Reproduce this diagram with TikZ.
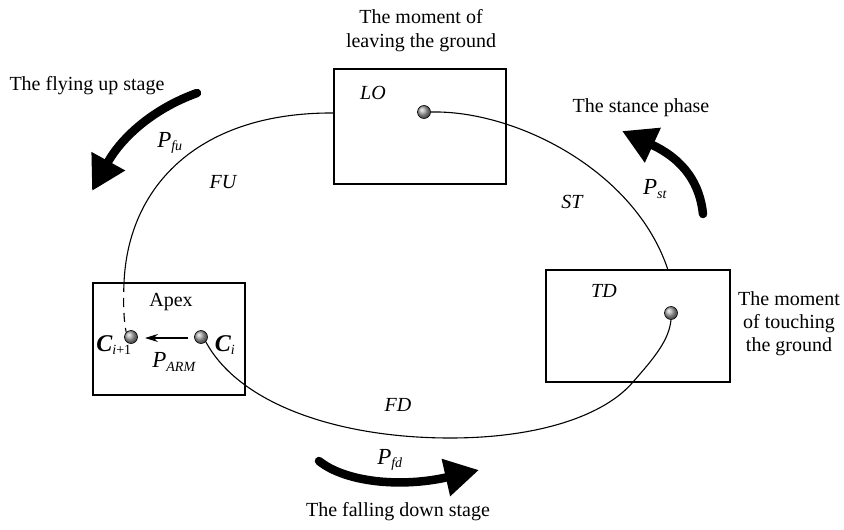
\documentclass[tikz,border=0pt]{standalone}
\usepackage{fontspec}
\setmainfont{Liberation Serif}
\usetikzlibrary{arrows.meta}
\begin{document}
\begin{tikzpicture}[x=1pt,y=-1pt,
  box/.style={draw, line width=1.2pt, inner sep=0pt},
  lbl/.style={font=\fontsize{20}{24}\selectfont, inner sep=0pt, align=center},
  sym/.style={font=\fontsize{20}{24}\selectfont\itshape, inner sep=0pt},
  psym/.style={font=\fontsize{23}{26}\selectfont\itshape, inner sep=0pt},
  ball/.style={circle, inner sep=0pt, minimum size=13pt, draw=black, line width=0.6pt, ball color=gray!70},
  thin/.style={line width=1.1pt},
  bigarrow/.style={line width=8.5pt, line cap=round, -{Triangle[length=34pt,width=36pt]}}
]
\useasboundingbox (0,0) rectangle (844,530);

% boxes
\node[box, minimum width=172pt, minimum height=115pt] (lobox) at (420,126.5) {};
\node[box, minimum width=152pt, minimum height=112pt] (apexbox) at (169,339) {};
\node[box, minimum width=184pt, minimum height=112pt] (tdbox) at (638,326) {};

% balls
\node[ball] (loball) at (424,112) {};
\node[ball] (tdball) at (671,313) {};
\node[ball] (cnext) at (131,337) {};
\node[ball] (ci) at (201,337) {};

% helper coordinates
\coordinate (fuStart) at (334,113);
\coordinate (fuEnd) at (124,283);
\coordinate (stEnd) at (668,270);
\coordinate (fdLow) at (450,438);
\coordinate (fdMid) at (633,382);
\coordinate (armS) at (188,338);
\coordinate (armE) at (145,338);

% thin curves
\draw[thin] (loball.east) .. controls (515,110) and (635,170) .. (stEnd);
\draw[thin] (fuStart) .. controls (200,112) and (128,185) .. (fuEnd);
\draw[thin, dash pattern=on 9pt off 6pt] (fuEnd) .. controls (123,305) and (124,322) .. (cnext.north west);
\draw[thin] (ci.south east) .. controls (240,405) and (340,438) .. (fdLow)
  .. controls (540,438) and (605,415) .. (fdMid)
  .. controls (655,357) and (669,340) .. (tdball.south);
\draw[-{Stealth[length=13pt,width=8pt]}, line width=1.1pt] (armS) -- (armE);

% big arrows
\coordinate (fuA) at (197,93);
\coordinate (fuB) at (92,191);
\draw[bigarrow] (fuA) .. controls (150,110) and (120,140) .. (fuB);
\coordinate (stA) at (703,214);
\coordinate (stB) at (622,131);
\draw[bigarrow] (stA) .. controls (700,185) and (685,160) .. (stB);
\coordinate (fdA) at (319,461);
\coordinate (fdB) at (479,470);
\draw[bigarrow] (fdA) .. controls (345,482) and (400,488) .. (fdB);

% texts
\node[lbl] (tfu) at (87,86) {The flying up stage};
\node[lbl] (tlo) at (421,31) {The moment of\\leaving the ground};
\node[lbl] (tst) at (641,108) {The stance phase};
\node[lbl, font=\fontsize{20}{23}\selectfont] (ttd) at (789,324) {The moment\\of touching\\the ground};
\node[lbl] (tfd) at (398,512) {The falling down stage};

\node[sym] (lo) at (373,93) {LO};
\node[sym] (td) at (604,291) {TD};
\node[sym] (st) at (572,202) {ST};
\node[sym] (fu) at (223,182) {FU};
\node[sym] (fd) at (398,405) {FD};
\node[lbl] (apex) at (171,302) {Apex};

\node[psym] (pfu) at (170,143) {P\textsubscript{\fontsize{14}{15}\selectfont fu}};
\node[psym] (pst) at (655,189) {P\textsubscript{\fontsize{14}{15}\selectfont st}};
\node[psym] (pfd) at (390,460) {P\textsubscript{\fontsize{14}{15}\selectfont fd}};
\node[psym] (parm) at (174,362) {P\textsubscript{\fontsize{14}{15}\selectfont ARM}};
\node[psym, font=\fontsize{24}{26}\selectfont\bfseries\itshape] (cnl) at (114,345) {C\textsubscript{\fontsize{14}{15}\selectfont\mdseries\itshape i\upshape +1}};
\node[psym, font=\fontsize{24}{26}\selectfont\bfseries\itshape] (cil) at (225,345) {C\textsubscript{\fontsize{14}{15}\selectfont\mdseries\itshape i}};
\end{tikzpicture}
\end{document}
